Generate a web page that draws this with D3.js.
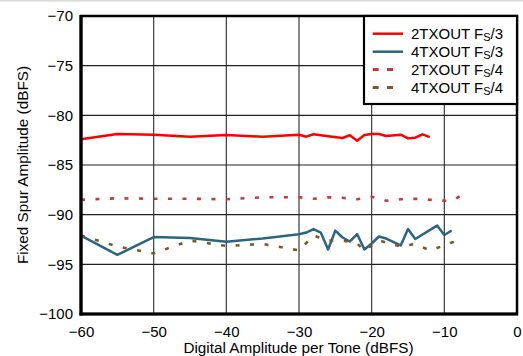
<!DOCTYPE html>
<html>
<head>
<meta charset="utf-8">
<script src="https://cdn.jsdelivr.net/npm/d3@7"></script>
<style>
  html, body { margin: 0; padding: 0; background: #fff; }
  svg { display: block; font-family: "Liberation Sans", Arial, sans-serif; }
</style>
</head>
<body>
<svg id="chart" width="523" height="356"></svg>
<script>
// ---- data ----
const xTicks = [-60, -50, -40, -30, -20, -10, 0];
const yTicks = [-100, -95, -90, -85, -80, -75, -70];

const tx2Fs3X = [-60, -55, -50, -45, -40, -35, -30, -29, -28, -26, -24, -23, -22, -21, -20, -19, -18, -16, -15, -14, -13, -12];
const tx2Fs3Y = [-82.4, -81.88, -81.95, -82.15, -81.98, -82.15, -81.95, -82.15, -81.9, -82.1, -82.28, -82.0, -82.55, -81.98, -81.88, -81.88, -82.08, -81.95, -82.32, -82.25, -81.91, -82.2];

const tx4Fs3X = [-60, -55, -50, -45, -40, -35, -30, -29, -28, -27, -26, -25, -24, -23, -22, -21, -20, -19, -18, -16, -15, -14, -11, -10, -9];
const tx4Fs3Y = [-92.1, -94.05, -92.25, -92.35, -92.72, -92.4, -91.97, -91.8, -91.45, -91.8, -93.5, -91.6, -92.3, -92.7, -91.95, -93.5, -92.9, -92.2, -92.4, -93.1, -91.45, -92.45, -91.1, -92.05, -91.6];

const tx2Fs4X = [-60, -55, -50, -45, -40, -35, -30, -28, -26, -24, -22, -20, -18, -16, -14, -12, -10, -9, -7.5];
const tx2Fs4Y = [-88.5, -88.35, -88.4, -88.4, -88.45, -88.25, -88.25, -88.4, -88.25, -88.3, -88.45, -88.2, -88.6, -88.45, -88.4, -88.5, -88.6, -88.6, -88.0];

const tx4Fs4X = [-60, -55, -50, -45, -40, -35, -33, -30, -28, -26, -24, -22, -21, -19, -16, -14, -12, -10, -9, -7.5];
const tx4Fs4Y = [-92.1, -93.2, -93.9, -92.6, -93.15, -92.95, -93.2, -93.6, -92.1, -92.6, -92.6, -92.9, -93.6, -92.6, -93.2, -92.95, -93.6, -93.1, -92.8, -92.6];

const seriesNames = ["2TXOUT", "4TXOUT", "2TXOUT", "4TXOUT"];
const seriesSuffix = ["/3", "/3", "/4", "/4"];
const xTitle = "Digital Amplitude per Tone (dBFS)";
const yTitle = "Fixed Spur Amplitude (dBFS)";

// ---- layout ----
const svg = d3.select("#chart");
const pL = 81, pR = 517, pT = 16, pB = 314;

const x = d3.scaleLinear().domain([-60, 0]).range([pL, pR]);
const y = d3.scaleLinear().domain([-100, -70]).range([pB, pT]);

// top grey strip
svg.append("rect").attr("x", 0).attr("y", 0).attr("width", 523).attr("height", 1.5).attr("fill", "#d8d8d8");

// grid
const g = svg.append("g");
g.selectAll("line.vg").data(xTicks.filter(d => d > -60 && d < 0)).join("line")
  .attr("x1", d => x(d)).attr("x2", d => x(d)).attr("y1", pT).attr("y2", pB)
  .attr("stroke", "#3a3a3a").attr("stroke-width", 1.2);
g.selectAll("line.hg").data(yTicks.filter(d => d > -100 && d < -70)).join("line")
  .attr("x1", pL).attr("x2", pR).attr("y1", d => y(d)).attr("y2", d => y(d))
  .attr("stroke", "#222").attr("stroke-width", 1.2);

// series
const series = [
  { xs: tx2Fs3X, ys: tx2Fs3Y, color: "#ff0000", dash: null, w: 2.5 },
  { xs: tx4Fs3X, ys: tx4Fs3Y, color: "#2b6680", dash: null, w: 2.5 },
  { xs: tx2Fs4X, ys: tx2Fs4Y, color: "#c23a3e", dash: "4,10.5", w: 2.6 },
  { xs: tx4Fs4X, ys: tx4Fs4Y, color: "#7a5a2c", dash: "4,10.5", w: 2.6 }
];
const line = d3.line().x(d => x(d[0])).y(d => y(d[1]));
series.forEach(s => {
  const pts = s.xs.map((v, i) => [v, s.ys[i]]);
  svg.append("path").datum(pts).attr("d", line)
    .attr("fill", "none").attr("stroke", s.color).attr("stroke-width", s.w)
    .attr("stroke-linejoin", "round")
    .attr("stroke-dasharray", s.dash);
});

// frame
svg.append("rect").attr("x", pL).attr("y", pT).attr("width", pR - pL).attr("height", pB - pT)
  .attr("fill", "none").attr("stroke", "#000").attr("stroke-width", 2.5);
svg.append("line").attr("x1", pL).attr("x2", pL).attr("y1", pT - 1).attr("y2", pB + 1.5).attr("stroke", "#000").attr("stroke-width", 3.2);
svg.append("line").attr("x1", pL - 1.5).attr("x2", pR + 1).attr("y1", pB).attr("y2", pB).attr("stroke", "#000").attr("stroke-width", 3.2);

// axes (labels only)
const yAxis = d3.axisLeft(y).tickValues(yTicks).tickSize(0).tickPadding(8).tickFormat(d3.format("d"));
const ya = svg.append("g").attr("transform", `translate(${pL},0)`).call(yAxis);
ya.select(".domain").remove();
ya.selectAll("text").attr("font-size", 15).attr("fill", "#000").attr("font-family", "Liberation Sans, Arial, sans-serif");

const xAxis = d3.axisBottom(x).tickValues(xTicks).tickSize(0).tickPadding(12).tickFormat(d3.format("d"));
const xa = svg.append("g").attr("transform", `translate(0,${pB})`).call(xAxis);
xa.select(".domain").remove();
xa.selectAll("text").attr("font-size", 15).attr("fill", "#000").attr("font-family", "Liberation Sans, Arial, sans-serif");

// titles
svg.append("text").attr("x", 298.5).attr("y", 352.5).attr("text-anchor", "middle")
  .attr("font-size", 15.3).text(xTitle);
svg.append("text").attr("transform", `translate(28,${(pT + pB) / 2}) rotate(-90)`)
  .attr("text-anchor", "middle").attr("font-size", 15.3).text(yTitle);

// legend
const lg = svg.append("g");
lg.append("rect").attr("x", 364).attr("y", pT).attr("width", pR - 364).attr("height", 88)
  .attr("fill", "#fff").attr("stroke", "#000").attr("stroke-width", 2.2);
const rowsY = [33.7, 51.7, 69.5, 87.5];
series.forEach((s, i) => {
  lg.append("line").attr("x1", 372.7).attr("x2", s.dash ? 393 : 403).attr("y1", rowsY[i]).attr("y2", rowsY[i])
    .attr("stroke", s.color).attr("stroke-width", s.dash ? 3 : 2.5)
    .attr("stroke-dasharray", s.dash ? "6,8.3" : null);
  const t = lg.append("text").attr("x", 411).attr("y", rowsY[i] + 5).attr("font-size", 15);
  t.append("tspan").text(seriesNames[i] + " F");
  t.append("tspan").attr("font-size", 11).attr("dy", 2.5).text("S");
  t.append("tspan").attr("dy", -2.5).text(seriesSuffix[i]);
});
</script>
</body>
</html>
